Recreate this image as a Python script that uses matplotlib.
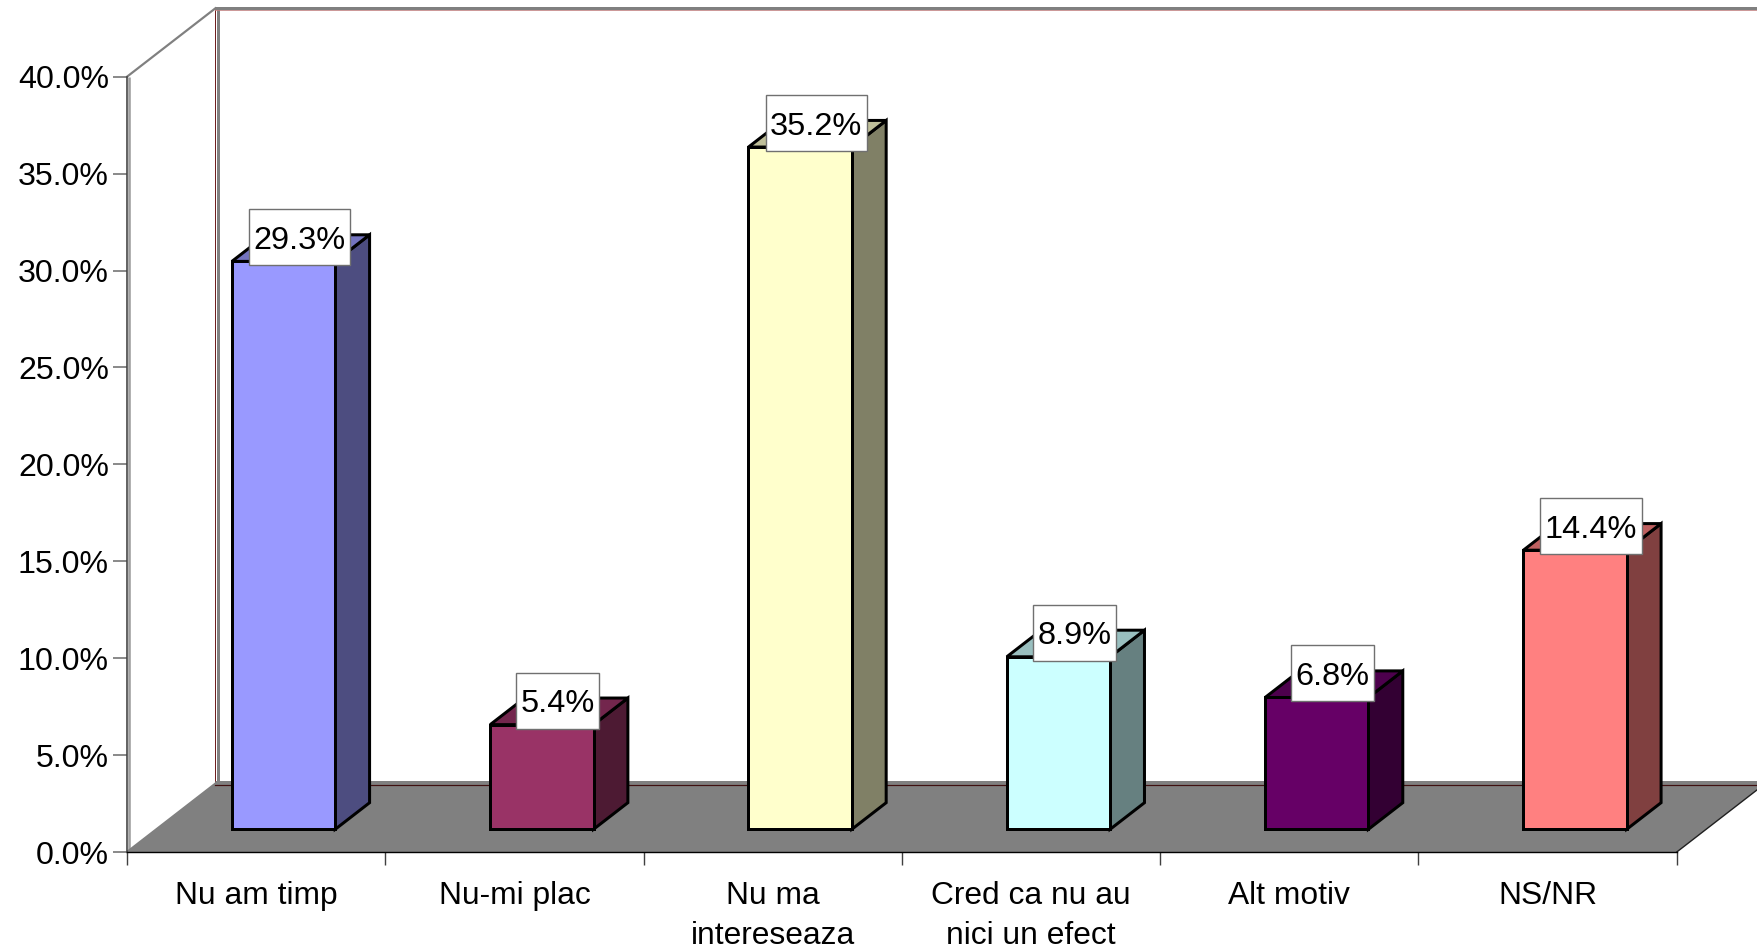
import matplotlib
matplotlib.use("Agg")
import matplotlib.pyplot as plt
from matplotlib.patches import Polygon, Rectangle
from matplotlib.transforms import IdentityTransform
from matplotlib.colors import to_rgb

categories = ["Nu am timp", "Nu-mi plac", "Nu ma\ninteresează", "Cred ca nu au\nnici un efect", "Alt motiv", "NS/NR"]
categories[2] = "Nu ma\ninteresează".replace("ă", "a")
values = [29.3, 5.4, 35.2, 8.9, 6.8, 14.4]
value_labels = ["29.3%", "5.4%", "35.2%", "8.9%", "6.8%", "14.4%"]
y_ticks = [0, 5, 10, 15, 20, 25, 30, 35, 40]
y_tick_labels = ["0.0%", "5.0%", "10.0%", "15.0%", "20.0%", "25.0%", "30.0%", "35.0%", "40.0%"]
bar_colors = ["#9999FF", "#993366", "#FFFFCC", "#CCFFFF", "#660066", "#FF8080"]

W, H = 1758, 948
plt.rcParams["font.family"] = ["Liberation Sans", "DejaVu Sans"]
FS_Y, FS_X, FS_LABEL = 23.1, 22.9, 23.4

fig = plt.figure(figsize=(W / 100, H / 100), dpi=100, facecolor="white")
x0, x1, ytop, ybot = 127.0, 1676.8, 76.7, 852.0
ax = fig.add_axes([x0 / W, 1 - ybot / H, (x1 - x0) / W, (ybot - ytop) / H])
ax.set_xlim(0, 6)
ax.set_ylim(0, 40)
ax.patch.set_alpha(0)

ux = (x1 - x0) / 6       # pixels per category
uy = (ybot - ytop) / 40  # pixels per percent
DX, DY = 88.5 / ux, 68.5 / uy  # oblique depth of the chart box, in data units


def P(x, y, depth=0.0):
    """Oblique projection of (x, y, depth 0..1) to axes data coordinates."""
    return (x + DX * depth, y + DY * depth)


GREY = "#808080"
px = 0.72  # points per pixel
wall_kw = dict(clip_on=False, zorder=2, solid_capstyle="butt")

# back wall
ax.add_patch(Polygon([P(0, 40, 1), P(6, 40, 1), P(6, 0, 1), P(0, 0, 1)], closed=True,
                     fc="white", ec="none", clip_on=False, zorder=1))
bl = P(0, 0, 1)
tl = P(0, 40, 1)
br = P(6, 0, 1)
ax.plot([bl[0]] * 2, [bl[1], tl[1]], color="#702020", lw=1.0 * px, **wall_kw)
ax.plot([bl[0] + 2.2 / ux] * 2, [bl[1] + 1 / uy, tl[1]], color=GREY, lw=3 * px, **wall_kw)
ax.plot([bl[0], br[0]], [tl[1] - 2.2 / uy] * 2, color="#C08080", lw=1.6 * px, **wall_kw)
ax.plot([bl[0], br[0]], [tl[1]] * 2, color=GREY, lw=3 * px, **wall_kw)

# left wall
ax.plot([2.5 / ux] * 2, [0, 40], color="#A0A0A0", lw=2.6 * px, **wall_kw)
ax.plot(*zip(P(0, 40, 0), P(0, 40, 1)), color=GREY, lw=2.2 * px, clip_on=False, zorder=2)
ax.plot(*zip(P(0, 0, 0), P(0, 0, 1)), color=GREY, lw=2.2 * px, clip_on=False, zorder=2)

# floor: grey band at the wall foot, then the floor itself
ax.plot([bl[0], br[0]], [bl[1] + 1.5 / uy] * 2, color=GREY, lw=3 * px, **wall_kw)
ax.add_patch(Polygon([P(0, 0, 0), P(6, 0, 0), P(6, 0, 1), P(0, 0, 1)], closed=True,
                     fc=GREY, ec="none", clip_on=False, zorder=3))
ax.plot([bl[0], br[0]], [bl[1] - 1 / uy] * 2, color="#401010", lw=1.2 * px, clip_on=False, zorder=3)
ax.plot(*zip(P(6, 0, 0), P(6, 0, 1)), color="#202020", lw=1.4 * px, clip_on=False, zorder=3)

# bars
BAR_W = 0.4
D_FRONT, D_BACK = 22.7 / 68.5, (22.7 + 26.6) / 68.5
SHIFT = 27.4 / ux


def shade(c, f):
    return tuple(v * f for v in to_rgb(c))


anchors = []
for i, (v, c) in enumerate(zip(values, bar_colors)):
    l = i + 0.5 - BAR_W / 2 + SHIFT - D_FRONT * DX
    r = l + BAR_W
    kw = dict(closed=True, ec="black", lw=3 * px, joinstyle="miter", clip_on=False, zorder=4)
    ax.add_patch(Polygon([P(r, 0, D_FRONT), P(r, 0, D_BACK), P(r, v, D_BACK), P(r, v, D_FRONT)],
                         fc=shade(c, 0.5), **kw))
    ax.add_patch(Polygon([P(l, v, D_FRONT), P(r, v, D_FRONT), P(r, v, D_BACK), P(l, v, D_BACK)],
                         fc=shade(c, 0.75), **kw))
    ax.add_patch(Polygon([P(l, 0, D_FRONT), P(r, 0, D_FRONT), P(r, v, D_FRONT), P(l, v, D_FRONT)],
                         fc=c, **kw))
    anchors.append(P((l + r) / 2, v, D_FRONT))

# axes furniture
for s in ("top", "right"):
    ax.spines[s].set_visible(False)
ax.spines["left"].set_color("#404040")
ax.spines["left"].set_linewidth(1.6 * px)
ax.spines["bottom"].set_color("black")
ax.spines["bottom"].set_linewidth(1.4 * px)
ax.spines["left"].set_zorder(5)
ax.spines["bottom"].set_zorder(5)
ax.set_yticks(y_ticks)
ax.set_yticklabels(y_tick_labels, fontsize=FS_Y, color="black")
ax.tick_params(axis="y", length=14 * px, width=1.6 * px, color="#707070", pad=4 * px)
ax.set_xticks(range(7))
ax.set_xticklabels([""] * 7)
ax.tick_params(axis="x", which="major", length=13 * px, width=1.4 * px, color="#404040")
ax.set_xticks([i + 0.5 for i in range(6)], minor=True)
ax.set_xticklabels(categories, minor=True, fontsize=FS_X, linespacing=1.44)
ax.tick_params(axis="x", which="minor", length=0, pad=29 * px)

# data labels: white boxes in pixel offsets from the top of each bar
fig.canvas.draw()
renderer = fig.canvas.get_renderer()
for (ax_x, ax_y), lab in zip(anchors, value_labels):
    cx, cy = ax.transData.transform((ax_x, ax_y))
    cx += 16
    cy += 24
    t = fig.text(cx / W, (cy - 11.6) / H, lab, fontsize=FS_LABEL, ha="center", va="baseline",
                 color="black", zorder=11)
    bb = t.get_window_extent(renderer)
    bw = bb.width + 9
    bh = 56
    fig.add_artist(Rectangle((cx - bw / 2, cy - bh / 2), bw, bh, transform=IdentityTransform(),
                             fc="white", ec="#707070", lw=1.4 * px, zorder=10))

fig.savefig("out.png", dpi=100, facecolor="white")
